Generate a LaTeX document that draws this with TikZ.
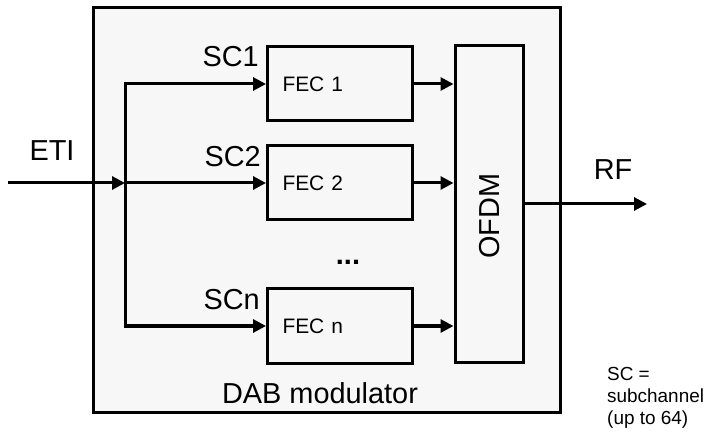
\documentclass[tikz,border=0pt]{standalone}
\usepackage{fontspec}
\setmainfont{Liberation Sans}
\usetikzlibrary{arrows.meta,calc}
\definecolor{modfill}{RGB}{247,247,247}
\tikzset{
  lw/.style={line width=3bp},
  arr/.style={lw,-{Triangle[length=13bp,width=13bp]}},
  fecbox/.style={draw,lw,fill=modfill,minimum height=74bp,text width=115bp,inner xsep=15bp,align=left,font=\fontsize{21}{24}\selectfont},
  big/.style={font=\fontsize{29}{34}\selectfont,inner sep=0pt},
  note/.style={font=\fontsize{19}{22}\selectfont,inner sep=0pt,anchor=base west}
}
\begin{document}
\begin{tikzpicture}[x=1bp,y=-1bp]
\useasboundingbox (0,0) rectangle (708,433);
% modulator frame
\node[draw,lw,fill=modfill,minimum width=466bp,minimum height=404bp,inner sep=0pt] (mod) at (327,210) {};
% FEC blocks
\node[fecbox] (fec1) at (340,84) {FEC 1};
\node[fecbox] (fec2) at (340,183) {FEC 2};
\node[fecbox] (fecn) at (340,326) {FEC n};
% OFDM block
\node[draw,lw,fill=modfill,minimum width=68bp,minimum height=316bp,inner sep=0pt] (ofdm) at (489,204) {};
\node[big,rotate=90] (ofdmt) at (490,216) {OFDM};
% coordinates
\coordinate (etistart) at (8,183);
\coordinate (busmid) at (125,183);
\coordinate (rfend) at (647,204);
% connectors
\draw[arr] (etistart) -- (busmid);
\draw[arr] (busmid) |- (fec1.west);
\draw[arr] (busmid) -- (fec2.west);
\draw[arr] (busmid) |- (fecn.west);
\draw[arr] (fec1.east) -- (fec1.east -| ofdm.west);
\draw[arr] (fec2.east) -- (fec2.east -| ofdm.west);
\draw[arr] (fecn.east) -- (fecn.east -| ofdm.west);
\draw[arr] (ofdm.east) -- (rfend);
% labels
\node[big] (eti) at (52,151) {ETI};
\node[big,anchor=east] (sc1) at (259,57) {SC1};
\node[big,anchor=east] (sc2) at (261,157) {SC2};
\node[big,anchor=east] (scn) at (260,300) {SCn};
\node[big,font=\fontsize{29}{34}\selectfont\bfseries] (dots) at (348,262) {...};
\node[big] (rf) at (613,170) {RF};
\node[big] (dab) at (320,393) {DAB modulator};
\node[note] (n1) at (607,380) {SC =};
\node[note] (n2) at (607,402) {subchannel};
\node[note] (n3) at (607,424) {(up to 64)};
\end{tikzpicture}
\end{document}
